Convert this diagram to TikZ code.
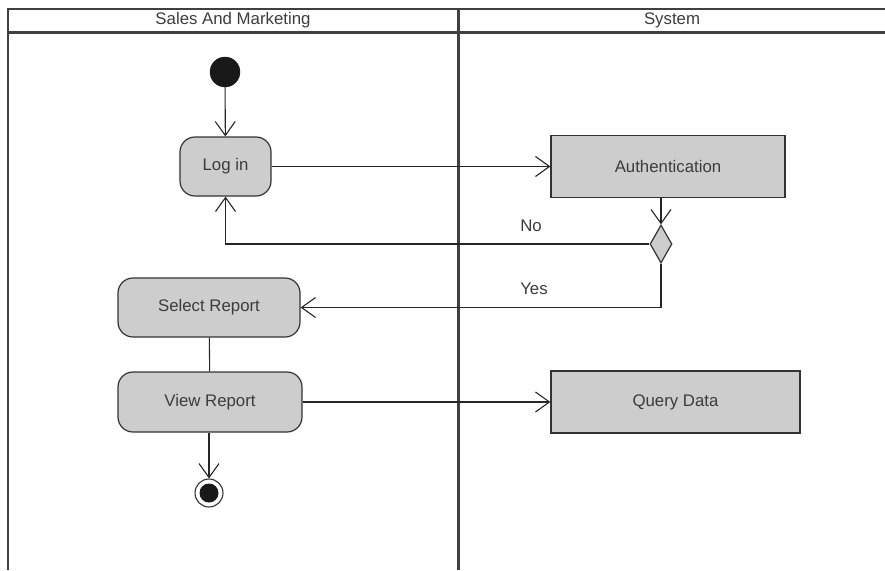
\documentclass[tikz,border=0pt]{standalone}
\usepackage{fontspec}
\setmainfont{Liberation Sans}
\usetikzlibrary{shapes.geometric,arrows.meta}

\definecolor{actfill}{RGB}{205,205,205}
\definecolor{txtgray}{RGB}{60,60,60}

\begin{document}
\begin{tikzpicture}
[every node/.style={inner sep=0pt, text=txtgray, font=\fontsize{16.8}{19}\selectfont},
 activity/.style={rounded corners=15pt, fill=actfill, draw=black!80, line width=1.2pt},
 action/.style={rectangle, fill=actfill, draw=black!80, line width=1.2pt},
 flow/.style={line width=1.1pt, color=black!85, -{Straight Barb[length=14pt, width=20pt, line width=1.1pt]}},
 lane/.style={line width=2.4pt, color=black!75}]
\useasboundingbox (0pt, 0pt) rectangle (885pt, -570pt);
% swimlanes
\draw [lane] (8pt, -570pt) -- (8pt, -9pt) -- (890pt, -9pt);
\draw [lane, line width=3pt] (8pt, -32pt) -- (890pt, -32pt);
\draw [lane, line width=3pt] (458pt, -9pt) -- (458pt, -570pt);
\node (salesLane) at (233pt, -20.5pt) {Sales And Marketing};
\node (systemLane) at (672pt, -20.5pt) {System};
% nodes
\node (start) [circle, minimum size=30pt, fill=black!90, draw=black!90] at (225pt, -72pt) {};
\node (login) [activity, minimum width=91pt, minimum height=59pt] at (225.5pt, -166.5pt) {Log in};
\node (auth) [action, minimum width=234pt, minimum height=62pt] at (668pt, -166.5pt) {Authentication};
\node (decide) [diamond, minimum width=22pt, minimum height=38pt, fill=actfill, draw=black!80, line width=1.2pt] at (661pt, -244pt) {};
\node (select) [activity, minimum width=182pt, minimum height=59pt] at (209pt, -307.5pt) {Select Report};
\node (view) [activity, minimum width=184pt, minimum height=60pt] at (210pt, -402pt) {View Report};
\node (query) [action, minimum width=249pt, minimum height=62pt] at (675.5pt, -402pt) {Query Data};
\node (final) [circle, minimum size=28pt, draw=black!80, line width=1.1pt, fill=white] at (209pt, -493pt) {};
\node (finalDot) [circle, minimum size=19pt, fill=black!90] at (final) {};
% flows
\draw [flow] (start) -- (login);
\draw [flow] (login) -- (auth);
\draw [flow] (decide |- auth.south) -- (decide);
\draw [flow] (decide.west) -| (login.south);
\draw [flow] (decide.south) |- (select.east);
\draw [line width=1.1pt, color=black!85] (select) -- (view);
\draw [flow] (view) -- (query);
\draw [flow] (view.south -| final) -- (final);
\node (noLabel) at (531pt, -226pt) {No};
\node (yesLabel) at (534pt, -289pt) {Yes};

\end{tikzpicture}
\end{document}
